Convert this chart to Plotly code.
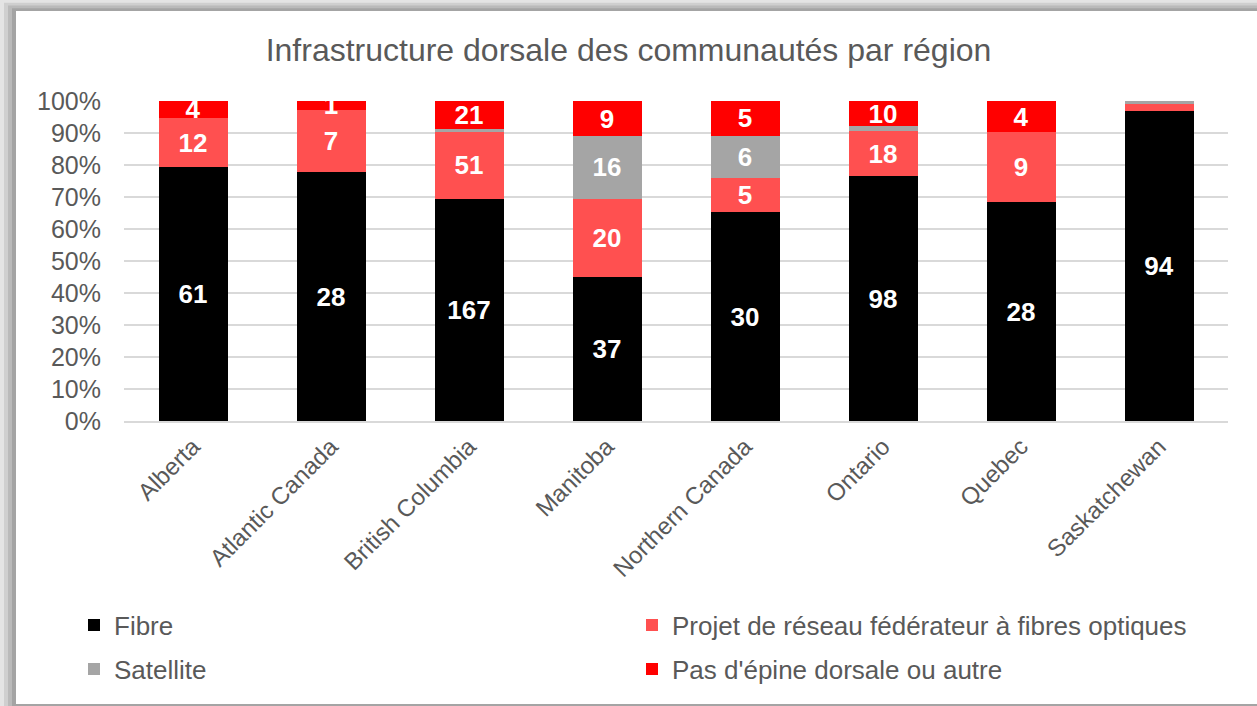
import plotly.graph_objects as go

regions = ["Alberta", "Atlantic Canada", "British Columbia", "Manitoba",
           "Northern Canada", "Ontario", "Quebec", "Saskatchewan"]
fibre = [61, 28, 167, 37, 30, 98, 28, 94]
projet = [12, 7, 51, 20, 5, 18, 9, 2]
satellite = [0, 0, 2, 16, 6, 2, 0, 1]
pas = [4, 1, 21, 9, 5, 10, 4, 0]

W, H = 1257, 706
L, R, T, B = 124, 29, 101, 285
pw, ph = W - L - R, H - T - B
FONT = "Liberation Sans, Arial"


def px_x(p):
    return (p - L) / pw


def px_y(p):
    return (H - B - p) / ph


# legend slot (left px, centre-y px) for each series
series = [
    ("Fibre", fibre, "#000000", "legend", 74, 625),
    ("Projet de réseau fédérateur à fibres optiques", projet, "#FF5050", "legend2", 632, 625),
    ("Satellite", satellite, "#A5A5A5", "legend3", 74, 669),
    ("Pas d'épine dorsale ou autre", pas, "#FF0000", "legend4", 632, 669),
]

totals = [sum(v) for v in zip(fibre, projet, satellite, pas)]

fig = go.Figure()
legends = {}
for name, vals, col, leg, lx, ly in series:
    txt = [str(v) if t and v / t >= 0.025 else "" for v, t in zip(vals, totals)]
    fig.add_trace(go.Bar(
        name=name, x=regions, y=vals, marker=dict(color=col, line=dict(width=0)),
        text=txt, textposition="inside", insidetextanchor="middle", textangle=0,
        textfont=dict(color="white", size=26, family=FONT, weight="bold"),
        cliponaxis=False, legend=leg,
    ))
    legends[leg] = dict(orientation="h", xanchor="left", yanchor="middle",
                        x=px_x(lx), y=px_y(ly), itemwidth=30,
                        font=dict(size=26, color="#595959", family=FONT),
                        bgcolor="rgba(0,0,0,0)")

shapes = []
# frame / shadow
shades = ["#E4E4E4", "#CFCFCF", "#BABABA", "#A4A4A4"]
for i, c in enumerate(shades):
    shapes.append(dict(type="rect", xref="paper", yref="paper", layer="below",
                       x0=px_x(i * 4), x1=px_x(W + 5), y0=px_y(H + 5), y1=px_y(i * 2.75),
                       fillcolor=c, line=dict(width=0)))
shapes.append(dict(type="rect", xref="paper", yref="paper", layer="below",
                   x0=px_x(16), x1=px_x(W + 5), y0=px_y(704), y1=px_y(11),
                   fillcolor="white", line=dict(width=0)))

fig.update_layout(
    width=W, height=H,
    barmode="stack", barnorm="percent", bargap=0.5,
    paper_bgcolor="white", plot_bgcolor="rgba(0,0,0,0)",
    margin=dict(l=L, r=R, t=T, b=B, autoexpand=False),
    font=dict(family=FONT, color="#595959", size=24),
    title=dict(text="Infrastructure dorsale des communautés par région",
               x=0.5, xanchor="center", y=1 - 50 / H, yanchor="middle",
               font=dict(size=32, color="#595959", family=FONT)),
    uniformtext=dict(minsize=26, mode="show"),
    showlegend=True,
    shapes=shapes,
    **legends,
)
fig.update_xaxes(tickangle=-45, showline=True, linecolor="#D9D9D9", linewidth=2,
                 ticks="", automargin=False,
                 tickfont=dict(size=24, color="#595959", family=FONT))
fig.update_yaxes(range=[0, 100], dtick=10, ticksuffix="%", showgrid=True,
                 gridcolor="#D9D9D9", gridwidth=2, zeroline=False, showline=False,
                 ticklabelstandoff=22, automargin=False,
                 tickfont=dict(size=25, color="#595959", family=FONT))

fig.write_html("out.html", config={"displayModeBar": False},
               post_script="document.body.style.margin='0';")
